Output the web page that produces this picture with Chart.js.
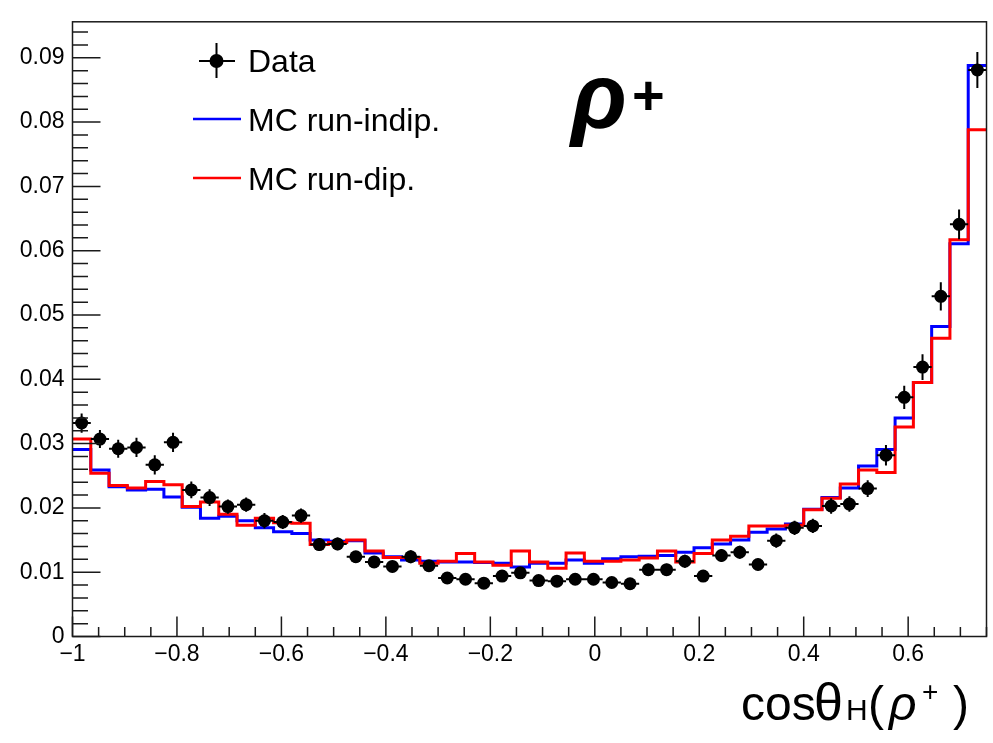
<!DOCTYPE html>
<html>
<head>
<meta charset="utf-8">
<title>cosθH(ρ+)</title>
<script src="https://cdn.jsdelivr.net/npm/chart.js@4.4.1/dist/chart.umd.min.js"></script>
<style>
  html, body { margin: 0; padding: 0; background: #fff; }
  canvas { display: block; }
</style>
</head>
<body>
<canvas id="chart" width="993" height="743"></canvas>
<script>
/* binning of the cos(theta_H) histograms */
const X_MIN = -1;
const X_MAX = 0.75;
const N_BINS = 50;
const BIN_W = (X_MAX - X_MIN) / N_BINS;

// data points (normalised) and their statistical errors
const dataY = [
    0.0332, 0.0307, 0.0292, 0.0294, 0.0267, 0.0302, 0.0228, 0.0216, 0.0202, 0.0205,
    0.0180, 0.0178, 0.0188, 0.0143, 0.0144, 0.0124, 0.0116, 0.0109, 0.0124, 0.0110,
    0.0091, 0.0089, 0.0083, 0.0094, 0.0099, 0.0087, 0.0086, 0.0089, 0.0089, 0.0084,
    0.0082, 0.0104, 0.0104, 0.0117, 0.0094, 0.0126, 0.0131, 0.0112, 0.0149, 0.0169,
    0.0172, 0.0203, 0.0206, 0.0230, 0.0282, 0.0372, 0.0419, 0.0529, 0.0641, 0.0881
];
const dataErr = [
    0.0015, 0.0014, 0.0014, 0.0015, 0.0015, 0.0015, 0.0013, 0.0013, 0.0011, 0.0011,
    0.0012, 0.0011, 0.0011, 0.0010, 0.0010, 0.0009, 0.0009, 0.0009, 0.0010, 0.0009,
    0.0008, 0.0008, 0.0008, 0.0008, 0.0009, 0.0008, 0.0008, 0.0008, 0.0008, 0.0008,
    0.0008, 0.0009, 0.0009, 0.0010, 0.0008, 0.0010, 0.0010, 0.0009, 0.0011, 0.0011,
    0.0011, 0.0012, 0.0012, 0.0013, 0.0016, 0.0018, 0.0020, 0.0022, 0.0023, 0.0028
];

// MC, run-independent
const mcIndep = [
    0.0291, 0.0259, 0.0233, 0.0228, 0.0229, 0.0217, 0.0201, 0.0184, 0.0187, 0.0180,
    0.0169, 0.0163, 0.0160, 0.0150, 0.0148, 0.0149, 0.0130, 0.0124, 0.0119, 0.0117,
    0.0116, 0.0116, 0.0115, 0.0114, 0.0108, 0.0114, 0.0114, 0.0119, 0.0114, 0.0121,
    0.0124, 0.0125, 0.0126, 0.0131, 0.0138, 0.0144, 0.0150, 0.0162, 0.0167, 0.0175,
    0.0198, 0.0216, 0.0231, 0.0265, 0.0291, 0.0340, 0.0395, 0.0482, 0.0611, 0.0888
];

// MC, run-dependent
const mcDep = [
    0.0307, 0.0254, 0.0235, 0.0231, 0.0241, 0.0236, 0.0202, 0.0209, 0.0190, 0.0173,
    0.0184, 0.0177, 0.0176, 0.0143, 0.0146, 0.0150, 0.0133, 0.0123, 0.0123, 0.0114,
    0.0117, 0.0129, 0.0116, 0.0111, 0.0133, 0.0116, 0.0106, 0.0130, 0.0117, 0.0117,
    0.0119, 0.0122, 0.0133, 0.0116, 0.0129, 0.0150, 0.0156, 0.0172, 0.0172, 0.0173,
    0.0197, 0.0215, 0.0237, 0.0259, 0.0255, 0.0326, 0.0395, 0.0464, 0.0617, 0.0788
];

const xMajorTicks  = [-1, -0.8, -0.6, -0.4, -0.2, 0, 0.2, 0.4, 0.6];
const xMajorLabels = ['\u22121', '\u22120.8', '\u22120.6', '\u22120.4', '\u22120.2', '0', '0.2', '0.4', '0.6'];
const yMajorTicks  = [0, 0.01, 0.02, 0.03, 0.04, 0.05, 0.06, 0.07, 0.08, 0.09];
const yMajorLabels = ['0', '0.01', '0.02', '0.03', '0.04', '0.05', '0.06', '0.07', '0.08', '0.09'];

const FONT = "'Liberation Sans', Arial, Helvetica, sans-serif";

function majorLabel(v, ticks, labels) {
    const i = ticks.findIndex(t => Math.abs(t - v) < 1e-9);
    return i < 0 ? '' : labels[i];
}

// left bin edges plus the closing right edge, for stepped lines
function stepPoints(vals) {
    const pts = vals.map((v, i) => ({ x: X_MIN + i * BIN_W, y: v }));
    pts.push({ x: X_MAX, y: vals[vals.length - 1] });
    return pts;
}

const dataPoints = dataY.map((v, i) => ({ x: X_MIN + (i + 0.5) * BIN_W, y: v }));

// x and y error bars of the data, drawn just before the markers
const errorBars = {
    id: 'errorBars',
    beforeDatasetDraw(chart, args) {
        if (args.index !== 0) return;
        const { ctx, scales: { x, y } } = chart;
        ctx.save();
        ctx.strokeStyle = '#000';
        ctx.lineWidth = 2;
        ctx.beginPath();
        dataY.forEach((v, i) => {
            const c = X_MIN + (i + 0.5) * BIN_W;
            const px = x.getPixelForValue(c);
            const py = y.getPixelForValue(v);
            ctx.moveTo(x.getPixelForValue(c - BIN_W / 2), py);
            ctx.lineTo(x.getPixelForValue(c + BIN_W / 2), py);
            ctx.moveTo(px, y.getPixelForValue(v - dataErr[i]));
            ctx.lineTo(px, y.getPixelForValue(v + dataErr[i]));
        });
        ctx.stroke();
        ctx.restore();
    }
};

// frame with inward major/minor ticks
const frameAxes = {
    id: 'frameAxes',
    afterDatasetsDraw(chart) {
        const { ctx, chartArea: a, scales: { x, y } } = chart;
        ctx.save();
        ctx.strokeStyle = '#1a1a1a';
        ctx.lineWidth = 1.5;
        ctx.beginPath();
        x.ticks.forEach(t => {
            const px = x.getPixelForValue(t.value);
            const len = t.label ? 20 : 9.5;
            ctx.moveTo(px, a.bottom);
            ctx.lineTo(px, a.bottom - len);
        });
        y.ticks.forEach(t => {
            const py = y.getPixelForValue(t.value);
            const len = t.label ? 28 : 15.5;
            ctx.moveTo(a.left, py);
            ctx.lineTo(a.left + len, py);
        });
        ctx.stroke();
        ctx.strokeRect(a.left, a.top, a.right - a.left, a.bottom - a.top);
        ctx.restore();
    }
};

// legend, channel label and axis title
const annotations = {
    id: 'annotations',
    afterDraw(chart) {
        const { ctx } = chart;
        const ds = chart.data.datasets;
        ctx.save();
        ctx.fillStyle = '#000';
        ctx.textAlign = 'left';
        ctx.textBaseline = 'alphabetic';

        // legend: data marker with error cross
        ctx.strokeStyle = '#000';
        ctx.lineWidth = 2;
        ctx.beginPath();
        ctx.moveTo(199, 61); ctx.lineTo(235, 61);
        ctx.moveTo(216.5, 43); ctx.lineTo(216.5, 78);
        ctx.stroke();
        ctx.beginPath();
        ctx.arc(216.5, 61, 7, 0, Math.PI * 2);
        ctx.fill();

        ctx.lineWidth = 2.5;
        [[ds[2], 119], [ds[1], 178]].forEach(([d, ly]) => {
            ctx.strokeStyle = d.borderColor;
            ctx.beginPath();
            ctx.moveTo(193, ly); ctx.lineTo(241, ly);
            ctx.stroke();
        });

        ctx.font = '32px ' + FONT;
        ctx.fillText(ds[0].label, 248, 72);
        ctx.fillText(ds[2].label, 248, 131);
        ctx.fillText(ds[1].label, 248, 190);

        // channel label
        ctx.font = 'italic bold 92px ' + FONT;
        ctx.fillText('\u03c1', 571, 128);
        ctx.font = 'bold 56px ' + FONT;
        ctx.fillText('+', 632, 114);

        // x-axis title: cos theta_H (rho+)
        const big = '48px ' + FONT;
        [
            ['cos', big, 741, 0],
            ['\u03b8', '52px ' + FONT, 814, 0],
            ['H', '30px ' + FONT, 846, 0],
            ['(', big, 868, 0],
            ['\u03c1', 'italic ' + big, 889, 0],
            ['+', '28px ' + FONT, 922, -19],
            [')', big, 953, 0]
        ].forEach(([t, f, tx, dy]) => {
            ctx.font = f;
            ctx.fillText(t, tx, 720 + dy);
        });

        ctx.restore();
    }
};

new Chart(document.getElementById('chart'), {
    data: {
        datasets: [
            {
                type: 'scatter',
                label: 'Data',
                data: dataPoints,
                order: 0,
                pointRadius: 6.5,
                pointBackgroundColor: '#000',
                pointBorderWidth: 0
            },
            {
                type: 'line',
                label: 'MC run-dip.',
                data: stepPoints(mcDep),
                order: 1,
                stepped: true,
                borderColor: '#ff0000',
                borderWidth: 3,
                pointRadius: 0,
                fill: false
            },
            {
                type: 'line',
                label: 'MC run-indip.',
                data: stepPoints(mcIndep),
                order: 2,
                stepped: true,
                borderColor: '#0000ff',
                borderWidth: 3,
                pointRadius: 0,
                fill: false
            }
        ]
    },
    options: {
        responsive: false,
        animation: false,
        devicePixelRatio: 1,
        layout: { padding: { top: 10, right: 2, left: 0, bottom: 0 } },
        plugins: { legend: { display: false }, tooltip: { enabled: false } },
        scales: {
            x: {
                type: 'linear',
                min: X_MIN,
                max: X_MAX,
                grid: { display: false, drawTicks: false },
                border: { display: false },
                ticks: {
                    stepSize: 0.05,
                    includeBounds: false,
                    autoSkip: false,
                    maxRotation: 0,
                    padding: 4,
                    color: '#000',
                    font: { family: FONT, size: 23 },
                    callback: v => majorLabel(v, xMajorTicks, xMajorLabels)
                },
                afterFit(s) { s.height = 106.5; }
            },
            y: {
                type: 'linear',
                min: 0,
                max: 0.0956,
                grid: { display: false, drawTicks: false },
                border: { display: false },
                ticks: {
                    stepSize: 0.002,
                    includeBounds: false,
                    autoSkip: false,
                    padding: 8,
                    color: '#000',
                    font: { family: FONT, size: 23 },
                    callback: v => majorLabel(v, yMajorTicks, yMajorLabels)
                },
                afterFit(s) { s.width = 72.5; }
            }
        }
    },
    plugins: [errorBars, frameAxes, annotations]
});
</script>
</body>
</html>
